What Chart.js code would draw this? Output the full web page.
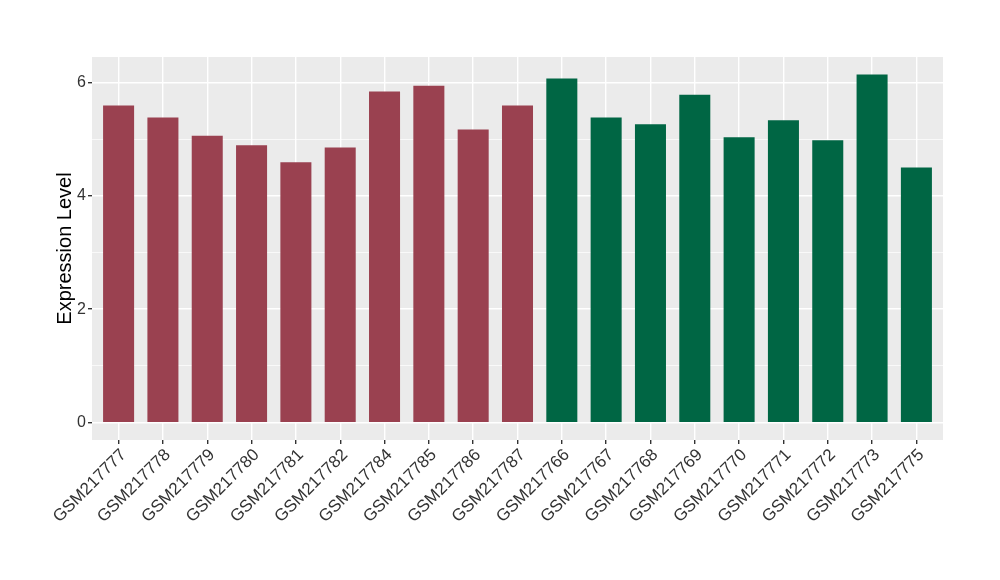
<!DOCTYPE html>
<html>
<head>
<meta charset="utf-8">
<script src="https://cdn.jsdelivr.net/npm/chart.js@4.4.0/dist/chart.umd.min.js"></script>
<style>
  html, body { margin: 0; padding: 0; background: #fff; }
  #wrap { width: 1000px; height: 580px; }
</style>
</head>
<body>
<div id="wrap"><canvas id="barChart" width="1000" height="580"></canvas></div>
<script>
const samples = ["GSM217777", "GSM217778", "GSM217779", "GSM217780", "GSM217781",
    "GSM217782", "GSM217784", "GSM217785", "GSM217786", "GSM217787",
    "GSM217766", "GSM217767", "GSM217768", "GSM217769", "GSM217770",
    "GSM217771", "GSM217772", "GSM217773", "GSM217775"];
const expression = [5.59, 5.38, 5.06, 4.89, 4.59, 4.85, 5.84, 5.94, 5.17, 5.59,
    6.07, 5.38, 5.26, 5.78, 5.03, 5.33, 4.98, 6.14, 4.50];
const groups = ["a", "a", "a", "a", "a", "a", "a", "a", "a", "a",
    "b", "b", "b", "b", "b", "b", "b", "b", "b"];
const yTicks = [0, 1, 2, 3, 4, 5, 6];
const groupColors = { a: "#9A4150", b: "#006644" };

document.addEventListener("DOMContentLoaded", () => {
    let canvas = document.getElementById("barChart");
    initChartBar(canvas);
});

function initChartBar(canvas) {
    let panelBg = {
        id: "panelBg",
        beforeDraw(chart) {
            let a = chart.chartArea;
            let ctx = chart.ctx;
            ctx.save();
            ctx.fillStyle = "#EBEBEB";
            ctx.fillRect(a.left, a.top, a.right - a.left, a.bottom - a.top);
            ctx.restore();
        }
    };

    let maxVal = Math.max(...expression);
    let pad = maxVal * 0.05;

    let barData = {
        datasets: [{
            data: expression.map((v, i) => ({ x: i, y: v })),
            backgroundColor: groups.map(g => groupColors[g]),
            barPercentage: 0.7,
            categoryPercentage: 1.0
        }]
    };

    let chartOptions = {
        responsive: false,
        animation: false,
        layout: { padding: { left: 0, right: 57, top: 57, bottom: 0 } },
        plugins: {
            legend: { display: false },
            tooltip: { enabled: false }
        },
        scales: {
            x: {
                type: "linear",
                offset: false,
                min: -0.6,
                max: samples.length - 0.4,
                afterBuildTicks: scale => {
                    scale.ticks = samples.map((s, i) => ({ value: i }));
                },
                afterFit: scale => {
                    scale.height = 140;
                    scale.paddingLeft = 0;
                    scale.paddingRight = 0;
                },
                ticks: {
                    autoSkip: false,
                    minRotation: 45,
                    maxRotation: 45,
                    padding: 1,
                    labelOffset: 5,
                    color: "#333333",
                    font: { family: "Liberation Sans", size: 17 },
                    callback: v => samples[v]
                },
                grid: {
                    offset: false,
                    color: "#FFFFFF",
                    lineWidth: 1.4,
                    tickLength: 4,
                    tickColor: "#333333"
                },
                border: { display: false }
            },
            y: {
                min: -pad,
                max: maxVal + pad,
                afterBuildTicks: scale => {
                    scale.ticks = yTicks.map(v => ({ value: v }));
                },
                afterFit: scale => {
                    scale.width = 92;
                    scale.paddingTop = 0;
                    scale.paddingBottom = 0;
                },
                ticks: {
                    padding: 2,
                    color: "#333333",
                    font: { family: "Liberation Sans", size: 16 },
                    callback: v => (v % 2 === 0 ? String(v) : "")
                },
                grid: {
                    color: "#FFFFFF",
                    lineWidth: ctx => (ctx.tick && ctx.tick.value % 2 === 0 ? 1.4 : 0.7),
                    tickLength: 4,
                    tickColor: ctx => (ctx.tick && ctx.tick.value % 2 === 0 ? "#333333" : "rgba(0,0,0,0)")
                },
                border: { display: false },
                title: {
                    display: true,
                    text: "Expression Level",
                    color: "#000000",
                    font: { family: "Liberation Sans", size: 20 },
                    padding: { top: 53, bottom: 0 }
                }
            }
        }
    };

    new Chart(canvas, {
        type: "bar",
        data: barData,
        options: chartOptions,
        plugins: [panelBg]
    });
}
</script>
</body>
</html>
